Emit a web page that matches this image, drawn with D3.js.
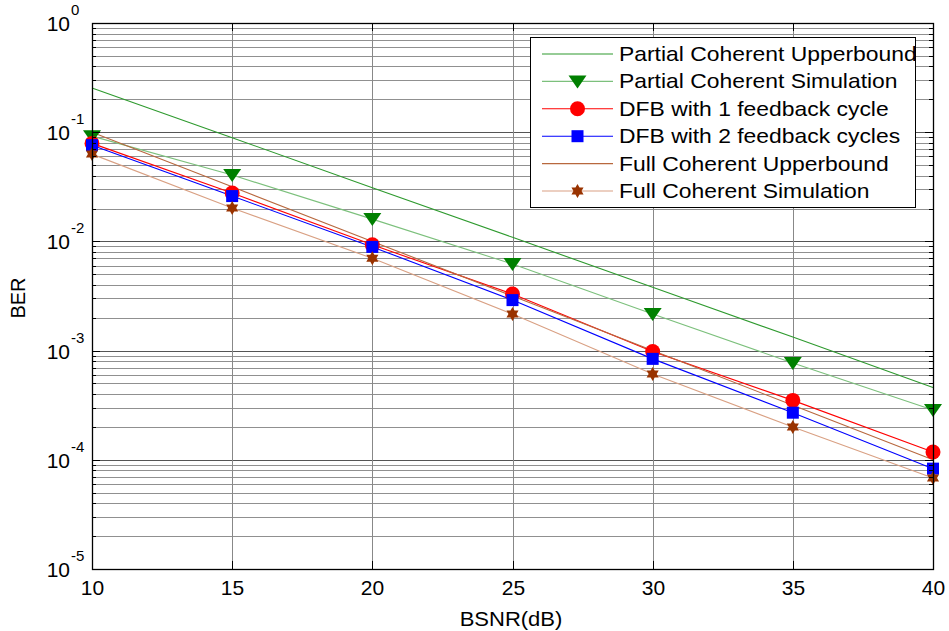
<!DOCTYPE html>
<html>
<head>
<meta charset="utf-8">
<script src="https://cdn.jsdelivr.net/npm/d3@7/dist/d3.min.js"></script>
<style>
  html, body { margin: 0; padding: 0; background: #fff; }
  svg text { font-family: "Liberation Sans", Arial, sans-serif; fill: #000; }
</style>
</head>
<body>
<svg id="chart" width="949" height="631"></svg>
<script>
// ---- data ----
const snr = [10, 15, 20, 25, 30, 35, 40];
const partialUpper = [0.254, 0.089, 0.031, 0.0109, 0.0038, 0.00133, 0.00046];
const partialSim   = [0.092, 0.0405, 0.016, 0.0062, 0.00216, 0.00077, 0.000286];
const dfb1         = [0.079, 0.0277, 0.0093, 0.0033, 0.00098, 0.00035, 0.000118];
const dfb2         = [0.076, 0.026, 0.0089, 0.0029, 0.00084, 0.00027, 0.000083];
const fullUpper    = [0.1, 0.0316, 0.01, 0.00316, 0.001, 0.000316, 0.0001];
const fullSim      = [0.063, 0.0202, 0.0070, 0.00216, 0.00061, 0.0002, 0.000068];
const xTicks = [10, 15, 20, 25, 30, 35, 40];
const yDecades = [0, -1, -2, -3, -4, -5];
const seriesNames = ["Partial Coherent Upperbound", "Partial Coherent Simulation",
  "DFB with 1 feedback cycle", "DFB with 2 feedback cycles",
  "Full Coherent Upperbound", "Full Coherent Simulation"];

// ---- layout ----
const L = 92, R = 933, T = 23, B = 569;
const svg = d3.select("#chart");
const x = d3.scaleLinear().domain([10, 40]).range([L, R]);
const y = d3.scaleLog().domain([1e-5, 1]).range([B, T]);

// grid: minor horizontal
const minorVals = [];
for (let e = -5; e < 0; e++) for (let m = 1; m <= 9; m++) minorVals.push(m * Math.pow(10, e));
const grid = svg.append("g");
minorVals.forEach(v => {
  const isMajor = Math.abs(Math.log10(v) - Math.round(Math.log10(v))) < 1e-9;
  grid.append("line").attr("x1", L).attr("x2", R)
    .attr("y1", Math.round(y(v)) + 0.5).attr("y2", Math.round(y(v)) + 0.5)
    .attr("stroke", isMajor ? "#555" : "#909090").attr("stroke-width", 1);
});
xTicks.forEach(t => {
  grid.append("line").attr("y1", T).attr("y2", B)
    .attr("x1", Math.round(x(t)) + 0.5).attr("x2", Math.round(x(t)) + 0.5)
    .attr("stroke", "#888").attr("stroke-width", 1);
});

// ---- series ----
const line = d3.line().x((d, i) => x(snr[i])).y(d => y(d));
const series = [
  { vals: partialUpper, line: "#2e9a2e", marker: null },
  { vals: partialSim, line: "#7cc07c", marker: "tri", mcol: "#008000" },
  { vals: dfb1, line: "#ff0000", marker: "circle", mcol: "#ff0000" },
  { vals: dfb2, line: "#0000ff", marker: "square", mcol: "#0000ff" },
  { vals: fullUpper, line: "#b8683e", marker: null },
  { vals: fullSim, line: "#d9a083", marker: "star", mcol: "#993300" }
];

function hexagram(r) {
  const pts = [];
  for (let k = 0; k < 12; k++) {
    const a = -Math.PI / 2 + k * Math.PI / 6;
    const rr = k % 2 === 0 ? r : r * 0.577;
    pts.push([rr * Math.cos(a), rr * Math.sin(a)]);
  }
  return "M" + pts.map(p => p.join(",")).join("L") + "Z";
}
function drawMarker(g, type, cx, cy, col) {
  if (type === "tri") {
    g.append("path").attr("d", `M${cx - 9},${cy - 6}L${cx + 9},${cy - 6}L${cx},${cy + 7}Z`).attr("fill", col);
  } else if (type === "circle") {
    g.append("circle").attr("cx", cx).attr("cy", cy).attr("r", 7.5).attr("fill", col);
  } else if (type === "square") {
    g.append("rect").attr("x", cx - 6).attr("y", cy - 6).attr("width", 12).attr("height", 12).attr("fill", col);
  } else if (type === "star") {
    g.append("path").attr("d", hexagram(7)).attr("transform", `translate(${cx},${cy})`).attr("fill", col);
  }
}

const plot = svg.append("g");
series.forEach(s => {
  plot.append("path").attr("d", line(s.vals)).attr("fill", "none")
    .attr("stroke", s.line).attr("stroke-width", 1.1);
});
series.forEach(s => {
  if (!s.marker) return;
  s.vals.forEach((v, i) => drawMarker(plot, s.marker, x(snr[i]), y(v), s.mcol));
});

// ---- axes box and ticks ----
const ax = svg.append("g");
ax.append("rect").attr("x", L + 0.5).attr("y", T + 0.5).attr("width", R - L).attr("height", B - T)
  .attr("fill", "none").attr("stroke", "#000").attr("stroke-width", 1.3);
xTicks.forEach(t => {
  const px = Math.round(x(t)) + 0.5;
  ax.append("line").attr("x1", px).attr("x2", px).attr("y1", B).attr("y2", B - 8).attr("stroke", "#000");
  ax.append("line").attr("x1", px).attr("x2", px).attr("y1", T).attr("y2", T + 8).attr("stroke", "#000");
  ax.append("text").attr("x", px).attr("y", 595).attr("text-anchor", "middle")
    .attr("font-size", 21).text(t);
});
minorVals.forEach(v => {
  const isMajor = Math.abs(Math.log10(v) - Math.round(Math.log10(v))) < 1e-9;
  const len = isMajor ? 8 : 4;
  const py = Math.round(y(v)) + 0.5;
  ax.append("line").attr("x1", L).attr("x2", L + len).attr("y1", py).attr("y2", py).attr("stroke", "#000");
  ax.append("line").attr("x1", R).attr("x2", R - len).attr("y1", py).attr("y2", py).attr("stroke", "#000");
});
yDecades.forEach(e => {
  const py = y(Math.pow(10, e));
  ax.append("text").attr("x", 70).attr("y", py + 8).attr("text-anchor", "end")
    .attr("font-size", 21).text("10");
  ax.append("text").attr("x", 71).attr("y", py - 8).attr("text-anchor", "start")
    .attr("font-size", 15).text(String(e));
});

// axis labels
svg.append("text").attr("text-anchor", "middle").attr("font-size", 20)
  .attr("transform", "translate(511,626) scale(1.1,1)").text("BSNR(dB)");
svg.append("text").attr("text-anchor", "middle").attr("font-size", 20)
  .attr("transform", "translate(25,298) rotate(-90)").text("BER");

// ---- legend ----
const lg = svg.append("g");
lg.append("rect").attr("x", 530.5).attr("y", 37.5).attr("width", 385).attr("height", 170)
  .attr("fill", "#fff").attr("stroke", "#000").attr("stroke-width", 1);
series.forEach((s, i) => {
  const cy = 54 + i * 27.4;
  lg.append("line").attr("x1", 542).attr("x2", 613).attr("y1", cy).attr("y2", cy)
    .attr("stroke", s.line).attr("stroke-width", 1.1);
  if (s.marker) drawMarker(lg, s.marker, 577.5, cy, s.mcol);
  lg.append("text").attr("font-size", 20)
    .attr("transform", `translate(619,${cy + 7}) scale(1.145,1)`).text(seriesNames[i]);
});
</script>
</body>
</html>
